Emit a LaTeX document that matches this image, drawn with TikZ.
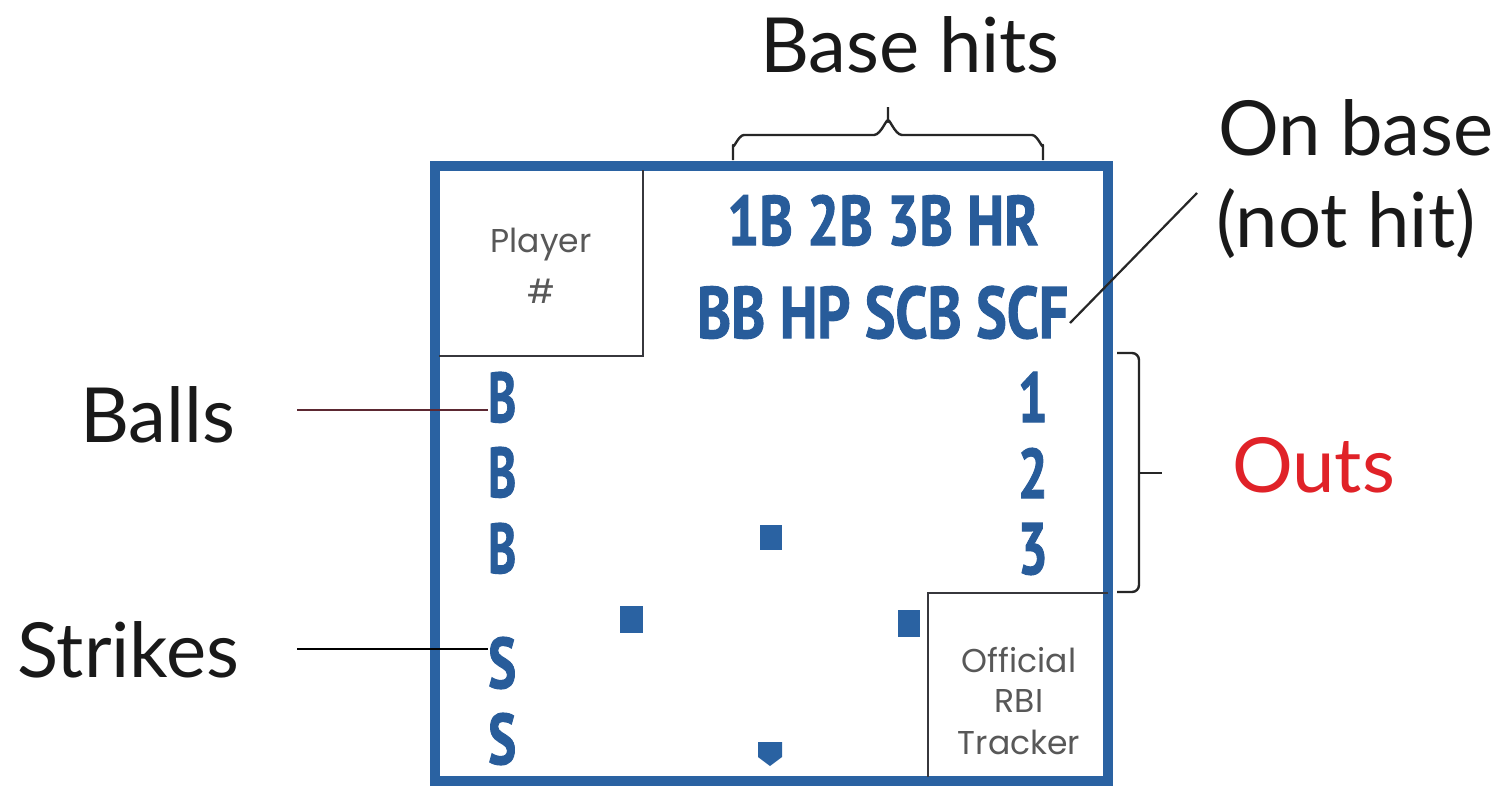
\documentclass[tikz,border=0pt]{standalone}
\usepackage{fontspec}
\usepackage{graphicx}
\setmainfont{Lato}
\newfontfamily\hdfont[BoldFeatures={FakeBold=1.6}]{PT Sans}
\newfontfamily\geofont{Poppins}
\definecolor{cardblue}{RGB}{42,98,162}
\definecolor{txtblue}{RGB}{40,92,154}
\definecolor{outsred}{RGB}{224,34,40}
\definecolor{ballline}{RGB}{92,40,50}
\definecolor{graytxt}{RGB}{88,88,88}
\definecolor{boxline}{RGB}{55,55,60}
\newcommand\bluetxt[3]{\resizebox{#1}{#2}{\hdfont\bfseries #3}}
\begin{document}
\begin{tikzpicture}[x=1pt,y=-1pt,
  lbl/.style={inner sep=0pt, anchor=base west, text=black!90, font=\fontsize{76}{80}\selectfont},
  bl/.style={inner sep=0pt, text=txtblue},
  geo/.style={inner sep=0pt, anchor=base, text=graytxt, font=\geofont\fontsize{33}{35}\selectfont},
  leader/.style={line width=2.2pt},
  bracket/.style={line width=2.4pt, black!85},
  cardframe/.style={draw=cardblue, line width=10pt},
  inner/.style={draw=boxline, line width=2.6pt},
  basemark/.style={fill=cardblue, draw=none}]
\useasboundingbox (0,0) rectangle (1509,785);
\fill[white] (0,0) rectangle (1509,785);

% card frame
\draw[cardframe] (435,166) rectangle (1108,781);
% player box
\draw[inner] (643,170) -- (643,356) -- (439,356);
% RBI box
\draw[inner] (928,777) -- (928,593) -- (1108,593);

% texts inside card
\node[geo] (player) at (541,252) {Player};
\node[geo] (hash) at (541,303) {\#};
\node[geo] (off) at (1019,672) {Official};
\node[geo] (rbi) at (1019,712) {RBI};
\node[geo] (trk) at (1019,754) {Tracker};

\node[bl, anchor=base west] (hits) at (727,245) {\bluetxt{311pt}{50pt}{1B 2B 3B HR}};
\node[bl, anchor=base west] (onb) at (697,338) {\bluetxt{371pt}{52pt}{BB HP SCB SCF}};

\node[bl, anchor=base west] (b1) at (488,422) {\bluetxt{28pt}{50pt}{B}};
\node[bl, anchor=base west] (b2) at (488,497) {\bluetxt{28pt}{50pt}{B}};
\node[bl, anchor=base west] (b3) at (488,573) {\bluetxt{28pt}{50pt}{B}};
\node[bl, anchor=base west] (s1) at (488,688) {\bluetxt{28pt}{51pt}{S}};
\node[bl, anchor=base west] (s2) at (488,764) {\bluetxt{28pt}{51pt}{S}};

\node[bl, anchor=base east] (o1) at (1048,422) {\bluetxt{30pt}{50pt}{1}};
\node[bl, anchor=base east] (o2) at (1048,498) {\bluetxt{30pt}{50pt}{2}};
\node[bl, anchor=base east] (o3) at (1048,574) {\bluetxt{30pt}{51pt}{3}};

% base marks
\fill[basemark] (760,525) rectangle (782,550);
\fill[basemark] (620,606) rectangle (643,633);
\fill[basemark] (898,610) rectangle (920,637);
\fill[basemark] (758,742) -- (782,742) -- (782,757) -- (770,766) -- (758,757) -- cycle;

% outside labels
\node[lbl] (basehits) at (760,72) {Base hits};
\node[lbl] (onbase1) at (1218,155) {On base};
\node[lbl] (onbase2) at (1216,247) {(not hit)};
\node[lbl] (balls) at (80,442) {Balls};
\node[lbl] (strikes) at (17,677) {Strikes};
\node[lbl, text=outsred] (outs) at (1232,492) {Outs};

% leaders
\coordinate (ballsL) at (297,410);
\coordinate (strikesL) at (297,649);
\coordinate (onbL) at (1197,193);
\coordinate (onbR) at (1070,323);
\draw[leader, ballline] (ballsL) -- (ballsL -| b1.west);
\draw[leader, black] (strikesL) -- (strikesL -| s1.west);
\draw[leader, black!85] (onbR) -- (onbL);

% base hits brace
\coordinate (brL) at (733,160);
\coordinate (brR) at (1043,160);
\coordinate (brT) at (888,107);
\draw[bracket, line join=round]
  (brL) -- (733,145) to[out=-90,in=180] (744,135) -- (874,135)
  to[out=0,in=90] (888,122) -- (brT);
\draw[bracket, line join=round]
  (brR) -- (1043,145) to[out=-90,in=0] (1032,135) -- (902,135)
  to[out=180,in=90] (888,122);

% outs bracket
\coordinate (otT) at (1117,353);
\coordinate (otB) at (1117,592);
\coordinate (otM) at (1162,473);
\draw[bracket, rounded corners=7pt] (otT) -- (1139,353) -- (1139,592) -- (otB);
\draw[bracket] (1139,473) -- (otM);
\end{tikzpicture}
\end{document}
